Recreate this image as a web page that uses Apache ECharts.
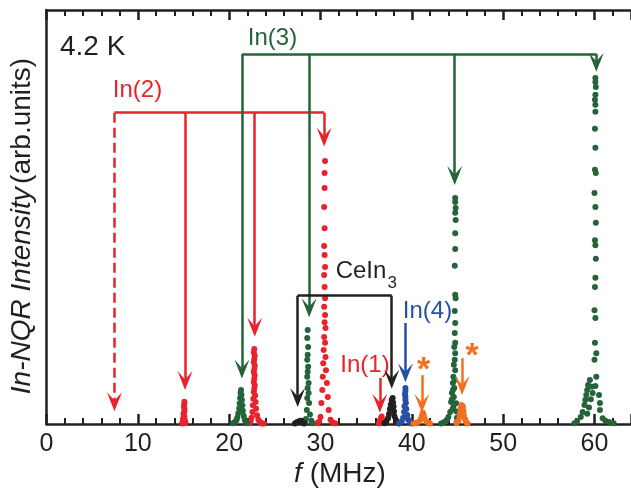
<!DOCTYPE html>
<html><head><meta charset="utf-8">
<script src="https://cdn.jsdelivr.net/npm/echarts@6/dist/echarts.min.js"></script>
<style>html,body{margin:0;padding:0;background:#fff}#c{width:631px;height:489px}</style>
</head><body><div id="c"></div>
<script>
const FONT = '"Liberation Sans", Arial, Helvetica, sans-serif';
const C_RED = '#e8232b', C_GREEN = '#25633a', C_BLUE = '#2451a4', C_ORANGE = '#f37021', C_BLACK = '#231f20';

// x axis ticks (MHz)
const xMin = 0, xMax = 64, xStep = 10;
const yMin = 0, yMax = 100;

// In(2) site (red) – peaks near 15.1, 22.75, 30.45 MHz
const in2Points = [
  [15.1,5.4],[15.1,4.9],[15.05,4.3],[15.1,3.7],[15.1,3.1],[15.0,2.5],[15.1,1.9],[14.95,1.3],[15.15,0.9],[14.9,0.5],[15.2,0.3],[14.85,0.1],
  [22.75,18.1],[22.7,17.3],[22.8,16.5],[22.75,15.7],[22.7,14.9],[22.8,14.1],[22.75,13.3],[22.7,12.5],[22.8,11.7],[22.75,10.9],[22.7,10.1],[22.8,9.3],[22.75,8.5],[22.7,7.7],[22.85,6.9],[22.65,6.1],[22.9,5.3],[22.6,4.5],[22.95,3.7],[22.55,2.9],[23.05,2.1],[22.45,1.5],[23.2,1.0],[22.35,0.6],[23.4,0.4],[22.25,0.2],[23.6,0.1],[23.8,0.1],
  [30.5,63.5],[30.45,60.6],[30.45,57.0],[30.4,52.4],[30.45,47.3],[30.4,43.0],[30.45,40.8],[30.5,37.9],[30.4,36.0],[30.45,33.1],[30.5,30.4],[30.4,28.3],[30.5,26.3],[30.45,24.6],[30.55,23.2],[30.4,21.0],[30.5,19.6],[30.35,17.9],[30.55,16.2],[30.3,14.7],[30.6,13.0],[30.25,11.4],[30.7,9.9],[30.2,8.2],[30.8,6.5],[30.1,5.1],[30.9,3.4],[30.0,1.7],[31.1,1.0],[29.8,0.5],[31.3,0.4],[29.6,0.2],[31.6,0.2]
];
// In(1) site (red) – small peak near 36.6 MHz
const in1Points = [[36.4,0.2],[36.5,0.7],[36.6,1.3],[36.7,1.8],[36.8,0.9],[36.9,0.3]];
// In(3) site (green) – peaks near 21.3, 28.6, 44.75, 60.1 MHz
const in3Points = [
  [21.3,8.2],[21.25,7.5],[21.35,7.0],[21.2,6.3],[21.4,5.8],[21.15,5.0],[21.45,4.5],[21.1,3.8],[21.5,3.2],[21.0,2.6],[21.6,2.0],[20.9,1.6],[21.7,1.1],[20.8,0.9],[21.8,0.5],[20.6,0.4],[21.95,0.2],[20.4,0.2],
  [28.6,22.7],[28.55,20.8],[28.65,18.6],[28.6,16.7],[28.55,15.5],[28.65,13.8],[28.6,12.6],[28.55,11.4],[28.7,9.9],[28.6,8.7],[28.7,7.5],[28.55,6.3],[28.75,5.1],[28.5,3.4],[28.85,2.3],[28.4,1.2],[29.0,0.8],[28.3,0.4],[29.1,0.2],[28.2,0.1],
  [44.75,54.6],[44.75,53.6],[44.8,52.2],[44.75,51.0],[44.8,49.3],[44.75,46.1],[44.75,42.3],[44.7,38.2],[44.75,31.2],[44.8,30.4],[44.7,27.3],[44.75,24.4],[44.7,22.0],[44.75,19.6],[44.65,18.6],[44.75,17.1],[44.7,15.5],[44.6,14.3],[44.75,13.0],[44.55,11.4],[44.7,10.6],[44.5,9.9],[44.65,8.7],[44.4,7.5],[44.6,6.5],[44.3,5.3],[44.55,4.1],[44.2,2.9],[44.0,1.7],[43.8,0.9],[43.5,0.4],[43.2,0.1],[44.9,0.3],[44.95,1.5],[44.9,3.0],[44.85,5.0],[44.4,6.0],[44.5,8.2],[44.45,3.5],
  [60.1,83.6],[60.1,82.6],[60.15,81.4],[60.1,79.5],[60.05,78.3],[60.1,77.1],[60.1,75.4],[60.05,71.3],[60.1,66.7],[60.05,61.4],[60.15,60.6],[60.0,55.8],[60.1,52.4],[60.15,48.6],[60.05,44.4],[60.1,43.2],[60.15,39.9],[60.1,35.3],[60.05,33.1],[60.0,27.5],[60.1,25.6],[60.05,19.6],[60.2,17.1],[60.0,15.5],[60.2,11.4],[60.1,9.2],
  [59.5,10.6],[59.3,9.4],[59.2,8.2],[59.1,7.0],[59.0,5.8],[58.9,4.6],[58.7,2.9],[58.5,1.7],[58.1,0.7],[57.8,0.2],[59.7,9.0],[59.8,7.5],[59.6,6.0],[59.4,4.0],[59.2,2.5],
  [60.5,7.0],[60.6,5.1],[60.6,3.4],[60.9,1.4],[61.2,0.8],[61.6,0.5],[62.1,0.2]
];
// CeIn3 (black) – peaks near 27.7 and 37.85 MHz
const ceIn3Points = [
  [27.2,0.1],[27.4,0.4],[27.6,0.6],[27.8,0.8],[28.0,0.5],[28.2,0.2],
  [37.9,6.3],[37.8,5.8],[37.95,5.2],[37.7,4.7],[38.0,4.2],[37.6,3.6],[38.05,3.0],[37.5,2.4],[38.1,1.9],[37.4,1.4],[38.25,1.0],[37.2,0.6],[38.4,0.4],[37.0,0.2],[38.6,0.1]
];
// In(4) site (blue) – peak near 39.3 MHz
const in4Points = [
  [39.3,8.7],[39.3,8.0],[39.25,7.2],[39.3,6.5],[39.3,5.8],[39.35,5.1],[39.2,4.3],[39.4,3.6],[39.15,2.9],[39.5,2.2],[39.05,1.5],[39.6,1.0],[38.9,0.6],[39.8,0.3],[38.6,0.2],[40.0,0.1]
];
// impurity peaks (orange, *) near 41.2 and 45.5 MHz
const starPoints = [
  [40.2,0.1],[40.5,0.3],[40.8,0.6],[41.0,1.2],[41.1,2.0],[41.2,2.8],[41.3,2.2],[41.4,1.3],[41.6,0.6],[41.8,0.3],[42.0,0.1],
  [44.9,0.2],[45.1,0.8],[45.25,1.8],[45.3,2.8],[45.35,3.8],[45.45,4.6],[45.6,4.2],[45.65,3.2],[45.7,2.2],[45.8,1.2],[45.95,0.5],[46.1,0.1]
];

// assignment brackets: arrow x positions, arrow tip heights, bracket height
const in2ArrowX = [7.44, 15.17, 22.8, 30.4], in2ArrowTip = [3.1, 8.2, 21.1, 67.0], in2BracketY = 75.2;
const in3ArrowX = [21.4, 28.76, 44.7, 60.2], in3ArrowTip = [11.0, 25.8, 57.7, 85.1], in3BracketY = 89.4;
const ceArrowX = [27.5, 37.8], ceArrowTip = [4.1, 8.5], ceBracketY = 31.0;
// single arrows: [x, top, tip]
const in1Arrow = [36.5, 11.1, 2.7];
const in4Arrow = [39.3, 24.4, 10.1];
const starArrows = [[41.1, 11.8, 2.7], [45.5, 15.9, 7.0]];

const GRID = {left:46.5, right:-3.2, top:10, bottom:65};
const plotH = 489 - GRID.top - GRID.bottom;
const ARROW_W = 15, ARROW_H = 19;
const ARROW = 'path://M7,0 L14,18 L7,10 L0,18 Z';
// the symbol is centred on the line end: shift end up by half the head so the tip lands on the value
const halfHead = (ARROW_H / 2) * (yMax - yMin) / plotH;

function bracketLines(xs, tips, yb, dashedIdx) {
  const out = [[{coord:[xs[0], yb], symbol:'none'}, {coord:[xs[xs.length-1], yb], symbol:'none'}]];
  xs.forEach((x, i) => {
    const ls = i === dashedIdx ? {type:[10,5]} : {type:'solid'};
    out.push([{coord:[x, yb], symbol:'none', lineStyle: ls}, {coord:[x, tips[i] + halfHead], symbol: ARROW, lineStyle: ls}]);
  });
  return out;
}
function singleLine(a) {
  return [{coord:[a[0], a[1]], symbol:'none'}, {coord:[a[0], a[2] + halfHead], symbol: ARROW}];
}
function markLine(color, data) {
  return {
    silent: true, animation: false,
    symbol: ['none','none'], symbolSize: [ARROW_W, ARROW_H],
    label: {show:false}, emphasis: {disabled:true},
    lineStyle: {color: color, width: 2.5, type:'solid', opacity: 1},
    data: data
  };
}
function scatter(name, data, color, ml) {
  const s = { name, type:'scatter', data, symbolSize: 6, itemStyle:{color, opacity:1}, silent:true, z: 3 };
  if (ml) s.markLine = markLine(color, ml);
  return s;
}

const chart = echarts.init(document.getElementById('c'), null, {renderer:'canvas'});
const axisCommon = {
  type:'value', min:xMin, max:xMax, interval:xStep,
  axisLine:{show:true, onZero:false, lineStyle:{color:C_BLACK, width:2.5}},
  axisTick:{show:true, inside:true, length:10, lineStyle:{color:C_BLACK, width:2.5}},
  minorTick:{show:true, splitNumber:5, length:6, lineStyle:{color:C_BLACK, width:2}},
  splitLine:{show:false}, minorSplitLine:{show:false}
};
chart.setOption({
  animation:false,
  grid:Object.assign({containLabel:false}, GRID),
  xAxis:[
    Object.assign({}, axisCommon, {position:'bottom', axisLabel:{show:true, fontSize:25, fontFamily:FONT, color:C_BLACK, margin:8, showMaxLabel:false}}),
    Object.assign({}, axisCommon, {position:'top', axisLabel:{show:false}})
  ],
  yAxis:{type:'value', min:yMin, max:yMax, axisLine:{show:true, lineStyle:{color:C_BLACK, width:2.5}}, axisTick:{show:false}, axisLabel:{show:false}, splitLine:{show:false}},
  series:[
    scatter('In(2)', in2Points, C_RED, bracketLines(in2ArrowX, in2ArrowTip, in2BracketY, 0)),
    scatter('In(1)', in1Points, C_RED, [singleLine(in1Arrow)]),
    scatter('In(3)', in3Points, C_GREEN, bracketLines(in3ArrowX, in3ArrowTip, in3BracketY, -1)),
    scatter('CeIn3', ceIn3Points, C_BLACK, bracketLines(ceArrowX, ceArrowTip, ceBracketY, -1)),
    scatter('In(4)', in4Points, C_BLUE, [singleLine(in4Arrow)]),
    scatter('*', starPoints, C_ORANGE, starArrows.map(singleLine))
  ],
  graphic:[
    {type:'text', x:60, y:47, style:{text:'4.2 K', font:'28px '+FONT, fill:C_BLACK, align:'left', verticalAlign:'middle'}},
    {type:'text', x:272.5, y:38, style:{text:'In(3)', font:'24px '+FONT, fill:C_GREEN, align:'center', verticalAlign:'middle'}},
    {type:'text', x:137.5, y:90, style:{text:'In(2)', font:'24px '+FONT, fill:C_RED, align:'center', verticalAlign:'middle'}},
    {type:'text', x:361, y:271, style:{text:'CeIn', font:'24px '+FONT, fill:C_BLACK, align:'center', verticalAlign:'middle'}},
    {type:'text', x:387.5, y:283, style:{text:'3', font:'17px '+FONT, fill:C_BLACK, align:'left', verticalAlign:'middle'}},
    {type:'text', x:427.5, y:311, style:{text:'In(4)', font:'24px '+FONT, fill:C_BLUE, align:'center', verticalAlign:'middle'}},
    {type:'text', x:365, y:365, style:{text:'In(1)', font:'24px '+FONT, fill:C_RED, align:'center', verticalAlign:'middle'}},
    {type:'text', x:423.5, y:371, style:{text:'*', font:'bold 34px '+FONT, fill:C_ORANGE, align:'center', verticalAlign:'middle'}},
    {type:'text', x:472, y:357, style:{text:'*', font:'bold 34px '+FONT, fill:C_ORANGE, align:'center', verticalAlign:'middle'}},
    {type:'text', x:22, y:226, rotation:Math.PI/2, style:{text:'{i|In-NQR Intensity} {n|(arb.units)}', align:'center', verticalAlign:'middle', fill:C_BLACK,
      rich:{i:{fontStyle:'italic', fontSize:28, fontFamily:FONT, fill:C_BLACK}, n:{fontSize:28, fontFamily:FONT, fill:C_BLACK}}}},
    {type:'text', x:340, y:474, style:{text:'{i|f} (MHz)', align:'center', verticalAlign:'middle', fill:C_BLACK, fontSize:28, fontFamily:FONT,
      rich:{i:{fontStyle:'italic', fontSize:28, fontFamily:FONT, fill:C_BLACK}}}}
  ]
});
</script></body></html>
